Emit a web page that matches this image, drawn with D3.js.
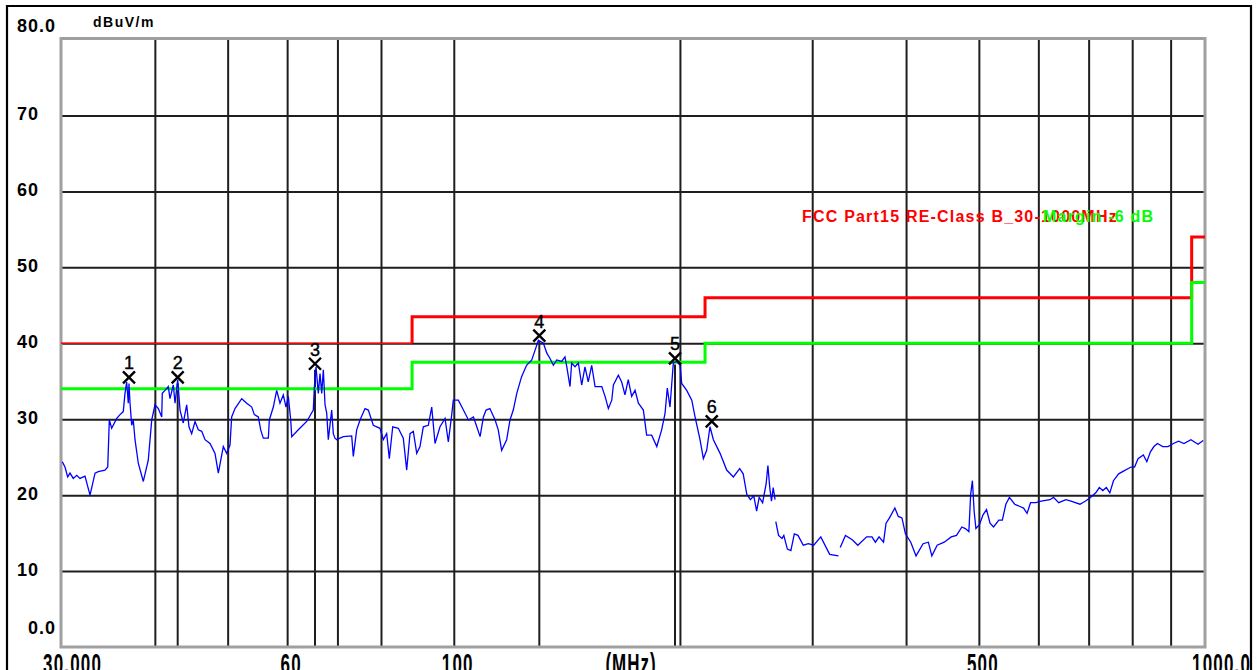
<!DOCTYPE html>
<html><head><meta charset="utf-8">
<script src="https://cdn.jsdelivr.net/npm/d3@7"></script>
<style>html,body{margin:0;padding:0;background:#fff;overflow:hidden}</style>
</head><body><svg id="c" width="1257" height="670"></svg>
<script>
// ---- data ----
const freqs = [30.12,30.37,30.62,30.84,31.15,31.48,31.80,32.29,32.79,33.30,33.63,34.33,34.62,34.79,35.04,35.59,35.95,36.31,36.50,36.69,36.87,36.95,37.07,37.26,37.44,37.64,38.02,38.61,39.20,39.62,40.02,40.43,40.85,40.92,41.26,41.68,41.90,42.33,42.55,42.90,43.21,43.64,44.10,44.41,44.78,45.24,45.70,46.18,46.65,47.37,48.10,48.59,49.34,49.85,50.36,50.62,51.14,52.20,53.01,53.83,54.26,54.93,55.33,55.77,56.64,56.81,57.51,58.11,58.70,59.30,59.79,60.22,60.66,60.85,62.09,63.71,65.01,65.21,65.55,66.02,66.36,66.71,67.04,67.39,67.74,68.07,68.78,69.12,69.48,69.85,71.27,73.13,73.49,74.26,75.02,76.18,76.95,78.14,79.76,80.57,81.41,82.07,82.93,84.36,85.66,86.56,87.44,88.33,89.26,90.16,91.08,92.49,93.46,94.41,95.86,97.35,98.34,99.37,99.85,101.4,103.0,104.6,106.2,107.3,108.4,109.5,110.4,111.7,113.5,114.6,115.8,117.6,118.8,120.0,121.3,123.1,125.0,127.0,128.3,129.6,131.6,133.0,134.3,135.7,137.1,139.2,140.6,141.4,142.8,143.5,145.0,146.5,148.0,149.5,151.0,152.6,154.2,157.4,159.0,160.6,162.3,163.1,165.6,167.3,169.0,170.7,172.5,174.3,176.1,178.8,180.6,183.4,186.3,189.1,191.1,192.4,194.0,196.0,198.0,200.1,201.1,204.2,207.4,209.5,212.7,214.9,217.1,219.3,221.6,226.2,230.8,235.6,240.2,242.8,245.5,248.2,250.8,253.0,255.0,257.7,260.5,261.9,263.4,264.8,266.2,267.7,268.0,268.3,270.6,273.5,275.0,278.0,281.0,284.0,287.2,291.9,296.5,301.4,308.0,316.5,325.1,326.0,326.9,332.2,339.5,345.0,354.5,360.3,364.1,368.2,373.3,376.2,380.2,386.5,390.6,395.0,399.2,405.8,412.4,421.4,428.3,432.9,440.0,449.6,459.4,466.9,474.6,479.7,484.9,487.6,490.2,492.8,495.5,500.9,506.4,511.9,517.4,523.0,531.6,537.3,543.1,549.1,558.1,567.1,573.4,579.6,585.8,595.4,605.2,621.7,628.4,638.7,652.8,663.2,681.6,692.7,703.9,715.4,723.3,731.1,739.0,747.0,755.3,767.4,780.0,797.2,805.8,814.5,827.8,836.7,846.0,855.1,864.3,878.5,892.9,907.5,922.4,937.5,957.8,978.9,994.6];
const levels = [24.4,23.7,22.4,22.9,22.2,22.6,22.2,22.5,20.0,22.9,23.1,23.3,23.7,29.9,28.8,30.1,30.6,31.0,33.4,34.9,32.1,34.7,32.1,29.2,29.9,27.3,24.2,21.8,24.6,29.9,31.9,31.4,30.3,33.4,33.8,34.3,32.7,34.5,32.1,35.2,31.2,29.5,31.9,29.0,28.1,29.7,28.6,28.4,27.3,26.8,25.5,22.9,26.4,25.5,26.6,30.3,31.4,32.7,32.1,31.6,30.6,30.3,28.6,27.5,27.5,29.9,31.6,33.8,32.1,33.2,31.6,33.0,29.9,27.7,28.6,29.7,31.2,34.1,36.9,33.4,36.0,33.4,36.5,31.9,30.8,27.3,31.2,28.1,27.5,27.3,27.7,27.8,25.1,28.6,29.9,31.4,31.2,29.2,28.8,27.3,28.1,24.8,29.0,28.8,27.5,23.3,28.1,28.4,25.5,26.4,29.0,29.2,31.6,26.8,29.0,30.1,27.0,30.6,32.5,32.5,31.2,29.9,30.3,29.0,27.7,30.3,31.2,31.4,29.9,28.6,25.9,27.3,29.9,31.2,33.4,35.6,37.1,37.8,39.1,40.4,40.0,38.7,38.0,37.1,37.8,37.6,38.2,36.9,34.3,37.4,36.9,37.4,34.5,36.9,34.9,37.1,34.3,34.3,33.0,31.4,32.5,34.5,35.8,34.9,33.2,35.2,33.0,33.8,32.1,31.2,27.9,27.9,26.4,28.6,30.8,34.1,31.6,37.4,37.6,37.1,34.7,33.8,32.5,30.3,27.3,24.8,25.9,29.0,27.3,25.5,23.3,22.4,23.5,22.8,20.1,19.4,19.9,17.9,19.7,19.0,21.5,23.9,21.0,19.2,21.0,19.4,null,16.5,14.7,14.3,14.7,12.9,12.7,14.9,14.7,13.4,13.6,13.4,14.5,12.2,12.0,null,13.1,14.7,14.1,13.4,14.5,14.5,13.8,14.5,13.8,16.3,17.0,18.3,17.2,17.0,14.9,13.8,12.0,13.6,13.8,12.0,13.4,13.8,14.5,14.7,15.8,15.6,15.2,20.1,21.9,17.9,15.6,16.1,17.4,18.1,16.3,15.8,16.7,16.7,18.8,19.7,18.8,18.5,18.3,17.6,19.0,19.0,19.2,19.4,19.7,19.0,19.4,19.2,18.8,19.2,19.7,20.3,21.0,20.6,21.0,20.3,21.9,22.8,23.2,23.7,23.7,24.8,25.3,24.4,25.7,26.4,26.8,26.4,26.4,26.8,27.1,26.8,27.3,26.7,27.2];

const markerNos = ["1","2","3","4","5","6"];
const markerFreqs = [36.95, 42.90, 65.35, 129.97, 197.0, 220.5];
const markerLevels = [35.5, 35.5, 37.3, 41.0, 38.0, 29.7];
const markerHasLine = [false, true, true, true, true, false];

const limitFreqs   = [30, 88, 88, 216, 216, 960, 960, 1000];
const limitLevels  = [40, 40, 43.5, 43.5, 46, 46, 54, 54];
const marginLevels = [34, 34, 37.5, 37.5, 40, 40, 48, 48];

const xGridFreqs = [40,50,60,70,80,100,200,300,400,500,600,700,800,900];
const yGridLevels = [10,20,30,40,50,60,70];
const yTicks = [0,10,20,30,40,50,60,70,80];
const yTickLabels = ["0.0","10","20","30","40","50","60","70","80.0"];
const xTickFreqs = [30, 60, 100, 500, 1000];
const xTickLabels = ["30.000","60","100","500","1000.0"];
const unitY = "dBuV/m";
const unitX = "(MHz)";
const limitName = "FCC Part15 RE-Class B_30-1000MHz";
const marginName = "Margin -6 dB";

// ---- drawing ----
const svg = d3.select("#c");
const L = 61, R = 1205, T = 39.5, B = 647;
const x = d3.scaleLog().domain([30, 1000]).range([L, R]);
const y = d3.scaleLinear().domain([0, 80]).range([B, T]);
const FONT = "'Liberation Sans', Arial, sans-serif";

svg.append("rect").attr("width", 1257).attr("height", 670).attr("fill", "#fff");

// grid via axes
const gx = svg.append("g").attr("transform", `translate(0,${B})`)
  .call(d3.axisBottom(x).tickValues(xGridFreqs).tickSize(-(B - T)).tickFormat(""));
gx.select(".domain").remove();
gx.selectAll(".tick line").attr("stroke", "#1e1e1e").attr("stroke-width", 2);

const gy = svg.append("g").attr("transform", `translate(${L},0)`)
  .call(d3.axisLeft(y).tickValues(yGridLevels).tickSize(-(R - L)).tickFormat(""));
gy.select(".domain").remove();
gy.selectAll(".tick line").attr("stroke", "#1e1e1e").attr("stroke-width", 2);

// marker vertical lines
markerFreqs.forEach((f, i) => {
  if (!markerHasLine[i]) return;
  svg.append("line")
    .attr("x1", x(f)).attr("x2", x(f))
    .attr("y1", y(markerLevels[i]) + 6).attr("y2", B)
    .attr("stroke", "#1e1e1e").attr("stroke-width", 2);
});

// plot border
svg.append("rect").attr("x", L).attr("y", T - 1).attr("width", R - L).attr("height", B - T + 1)
  .attr("fill", "none").attr("stroke", "#a0a0a0").attr("stroke-width", 3);

// limit lines
const lim = limitFreqs.map((f, i) => [f, limitLevels[i]]);
const mar = limitFreqs.map((f, i) => [f, marginLevels[i]]);
const stepLine = d3.line().x(d => x(d[0])).y(d => y(d[1]));
svg.append("path").attr("d", stepLine(lim.slice(0, 2)))
  .attr("fill", "none").attr("stroke", "#ff0000").attr("stroke-width", 1.6);
svg.append("path").attr("d", stepLine(lim.slice(1)))
  .attr("fill", "none").attr("stroke", "#ff0000").attr("stroke-width", 3);
svg.append("path").attr("d", stepLine(mar))
  .attr("fill", "none").attr("stroke", "#00ff00").attr("stroke-width", 3);

// trace
const trace = freqs.map((f, i) => [f, levels[i]]);
svg.append("path")
  .attr("d", d3.line().defined(d => d[1] != null).x(d => x(d[0])).y(d => y(d[1]))(trace))
  .attr("fill", "none").attr("stroke", "#0000ff").attr("stroke-width", 1.3);

// markers
markerFreqs.forEach((f, i) => {
  const cx = x(f), cy = y(markerLevels[i]);
  svg.append("path")
    .attr("d", `M${cx-6},${cy-6}L${cx+6},${cy+6}M${cx+6},${cy-6}L${cx-6},${cy+6}`)
    .attr("stroke", "#000").attr("stroke-width", 2.4).attr("fill", "none");
  svg.append("text").attr("x", cx).attr("y", cy - 8)
    .attr("text-anchor", "middle").attr("font-family", FONT).attr("font-size", 18)
    .attr("fill", "#000").attr("stroke", "#000").attr("stroke-width", 0.4)
    .text(markerNos[i]);
});

// legend texts
svg.append("text").attr("x", 802).attr("y", 222).attr("font-family", FONT)
  .attr("font-size", 16).attr("font-weight", "bold").attr("letter-spacing", 1.2)
  .attr("fill", "#ff0000").text(limitName);
svg.append("text").attr("x", 1043).attr("y", 222).attr("font-family", FONT)
  .attr("font-size", 16).attr("font-weight", "bold").attr("letter-spacing", 1.2)
  .attr("fill", "#00ff00").text(marginName);

// y tick labels
yTicks.forEach((v, i) => {
  const lab = yTickLabels[i];
  let yy = y(v) - 2;
  if (v === 80) yy = y(v) - 14;
  if (v === 0) yy = y(v) - 19;
  const dec = lab.indexOf(".") >= 0;
  svg.append("text").attr("x", dec ? 56 : 17).attr("y", yy)
    .attr("dy", "0.36em").attr("text-anchor", dec ? "end" : "start")
    .attr("font-family", FONT).attr("font-size", 18).attr("font-weight", "bold")
    .attr("letter-spacing", 1).attr("fill", "#000").text(lab);
});
svg.append("text").attr("x", 93).attr("y", 27).attr("font-family", FONT)
  .attr("font-size", 14).attr("font-weight", "bold").attr("letter-spacing", 1.5)
  .attr("fill", "#000").text(unitY);

// x tick labels (stretched, cut by the bottom edge as in the reference)
xTickFreqs.forEach((f, i) => {
  let xx = x(f) + 4, anchor = "middle";
  if (i === 0) { xx = x(f) - 18; anchor = "start"; }
  if (i === xTickFreqs.length - 1) { xx = x(f) - 13; anchor = "start"; }
  svg.append("text").attr("transform", `translate(${xx},673.5) scale(1,1.7)`)
    .attr("text-anchor", anchor).attr("font-family", FONT).attr("font-size", 17)
    .attr("font-weight", "bold").attr("letter-spacing", 1.2).attr("fill", "#000")
    .text(xTickLabels[i]);
});
svg.append("text").attr("transform", `translate(${(L + R) / 2 - 2},673.5) scale(1,1.7)`)
  .attr("text-anchor", "middle").attr("font-family", FONT).attr("font-size", 17)
  .attr("font-weight", "bold").attr("letter-spacing", 1).attr("fill", "#000").text(unitX);

// outer frame
const frame = svg.append("g").attr("stroke", "#000").attr("stroke-width", 2.2);
frame.append("line").attr("x1", 7).attr("x2", 7).attr("y1", 5).attr("y2", 670);
frame.append("line").attr("x1", 6).attr("x2", 1252).attr("y1", 6).attr("y2", 6);
frame.append("line").attr("x1", 1251).attr("x2", 1251).attr("y1", 5).attr("y2", 670);
</script>
</body></html>
